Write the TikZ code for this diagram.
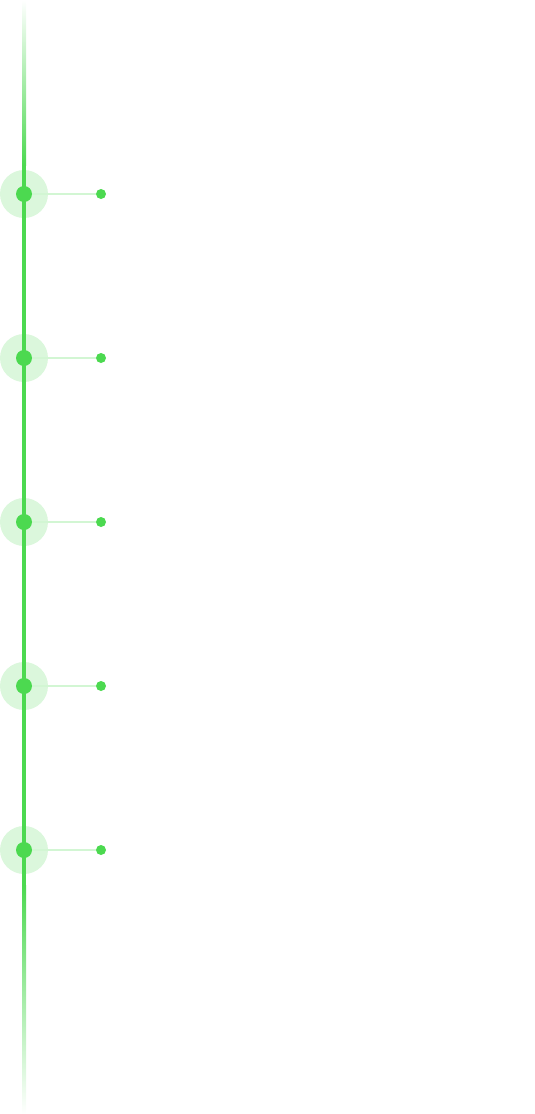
\documentclass[tikz,border=0pt]{standalone}
\usepackage{tikz}
\definecolor{lime}{RGB}{76,217,80}
\begin{document}
\begin{tikzpicture}[x=1pt,y=-1pt,
    halo/.style={circle,fill=lime!20,minimum size=48pt,inner sep=0pt},
    bigdot/.style={circle,fill=lime,minimum size=16pt,inner sep=0pt},
    smalldot/.style={circle,fill=lime,minimum size=10pt,inner sep=0pt}]
    \useasboundingbox(0,0)rectangle(535,1114);
    \foreach\i in{1,...,5}{\node[halo](h\i)at(24,30+164*\i){};};
    % the time line, fading out at both ends
    \shade[top color=white,bottom color=lime](22,0)rectangle(26,165);
    \fill[lime](22,165)rectangle(26,885);
    \shade[top color=lime,bottom color=white](22,885)rectangle(26,1114);
    \foreach\i in{1,...,5}{\node[bigdot](d\i)at(24,30+164*\i){};\node[smalldot](e\i)at(101,30+164*\i){};
        \draw[lime!25,line width=1.5pt](d\i)--(e\i);};
\end{tikzpicture}
\end{document}
